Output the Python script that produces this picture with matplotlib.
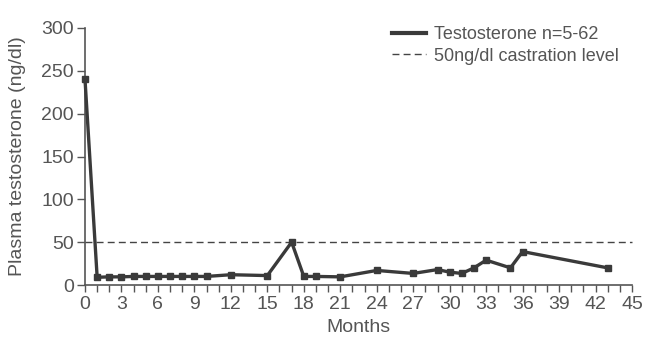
import numpy as np
import matplotlib.pyplot as plt
from matplotlib.ticker import MultipleLocator

# months and mean plasma testosterone (ng/dl)
months = [0, 1, 2, 3, 4, 5, 6, 7, 8, 9, 10, 12, 15, 17, 18, 19, 21,
          24, 27, 29, 30, 31, 32, 33, 35, 36, 43]
testosterone = [240, 9, 9.5, 9.5, 10, 10, 10, 10, 10, 10, 10, 12, 11, 50, 10, 10, 9.5,
                17, 13.5, 18, 15, 13.5, 20, 29, 20, 39, 20]
castration_level = 50

grey = '#555555'
plt.rcParams['font.family'] = ['Liberation Sans', 'DejaVu Sans']
plt.rcParams['font.size'] = 14

fig = plt.figure(figsize=(6.46, 3.38), dpi=100)
ax = fig.add_axes([85/646, 1 - 285/338, (632 - 85)/646, (285 - 28)/338])

ax.plot([0, 45], [castration_level, castration_level], ls=(0, (5, 3)), lw=1.0,
        color='#444444', label='50ng/dl castration level', clip_on=False)
ax.plot(months, testosterone, color='#3a3a3a', lw=2.4, marker='s', ms=5,
        label='Testosterone n=5-62', clip_on=False, zorder=3)

ax.set_xlim(0, 45)
ax.set_ylim(0, 300)
ax.xaxis.set_major_locator(MultipleLocator(3))
ax.xaxis.set_minor_locator(MultipleLocator(1))
ax.yaxis.set_major_locator(MultipleLocator(50))

for s in ['top', 'right']:
    ax.spines[s].set_visible(False)
for s in ['left', 'bottom']:
    ax.spines[s].set_color(grey)
    ax.spines[s].set_linewidth(1.2)

ax.tick_params(axis='both', which='both', color=grey, labelcolor=grey, width=1.0)
ax.tick_params(axis='x', which='both', length=5, pad=3)
ax.tick_params(axis='y', length=6, pad=2)

ax.set_xlabel('Months', color=grey)
ax.xaxis.set_label_coords(0.5, (285 - 328) / (285 - 28), transform=ax.transAxes)
ax.xaxis.label.set_va('center')
ax.set_ylabel('Plasma testosterone (ng/dl)', color=grey)
ax.yaxis.set_label_coords((18 - 85) / (632 - 85), 0.5, transform=ax.transAxes)
ax.yaxis.label.set_va('center')

handles, labels = ax.get_legend_handles_labels()
leg = ax.legend(handles[::-1], labels[::-1], loc='upper left', frameon=False,
                fontsize=13, handlelength=1.9, handletextpad=0.45, labelspacing=0.25,
                borderaxespad=0, borderpad=0,
                bbox_to_anchor=((392 - 85) / (632 - 85), (285 - 26) / (285 - 28)),
                labelcolor=grey)
leg.legend_handles[0].set_marker('')
leg.legend_handles[0].set_linewidth(3)

fig.savefig('out.png', dpi=100)
